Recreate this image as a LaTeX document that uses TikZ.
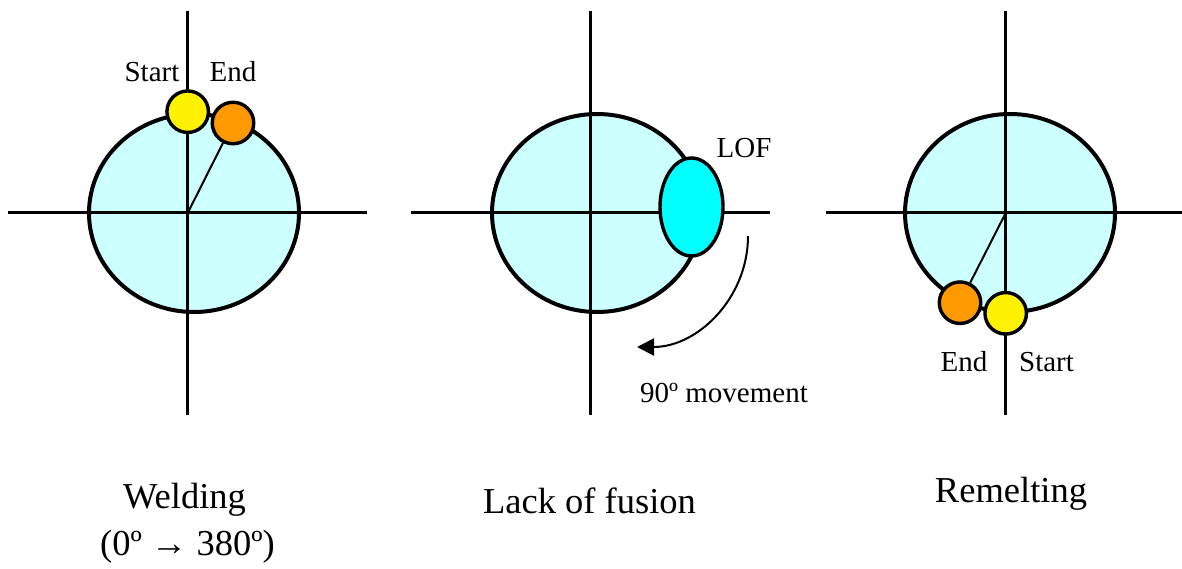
\documentclass[tikz,border=0pt]{standalone}
\usepackage{fontspec}
\setmainfont{Liberation Serif}
\usetikzlibrary{arrows.meta}
\definecolor{pipefill}{HTML}{CCFFFF}
\definecolor{lofcyan}{HTML}{00FFFF}
\definecolor{endorange}{HTML}{FF9900}

\begin{document}
\begin{tikzpicture}[x=1pt,y=-1pt,
  axis/.style={line width=3pt},
  pipe/.style={draw, line width=4pt, fill=pipefill},
  bead/.style={circle, draw, line width=3.4pt, inner sep=0pt, minimum size=41.5pt},
  lbl/.style={anchor=base, inner sep=0pt, font=\fontsize{29}{34}\selectfont},
  caption/.style={anchor=base, inner sep=0pt, font=\fontsize{36.5}{42}\selectfont}]
\useasboundingbox (0,0) rectangle (1182,569);

% welding
\coordinate (a) at (187.7,213);
\path[pipe] (194,213) ellipse[x radius=105, y radius=99];
\draw[axis] (a) ++(0,-202) -- ++(0,404);
\draw[axis] (a) ++(-180,0) -- ++(359,0);
\node[bead, fill=yellow] (s1) at (187.7,111.7) {};
\node[bead, fill=endorange] (e1) at (233,123) {};
\draw[line width=2pt] (a) -- (e1);
\node[lbl] (st1) at (152,82) {Start};
\node[lbl] (en1) at (233,82) {End};
\node[caption] (cap1) at (184.5,508) {Welding};
\node[caption] (cap1b) at (187.5,555) {(0º → 380º)};

% lack of fusion
\coordinate (b) at (590,213);
\path[pipe] (597,213) ellipse[x radius=105, y radius=99];
\draw[axis] (b) ++(0,-202) -- ++(0,404);
\draw[axis] (b) ++(-179,0) -- ++(359,0);
\path[draw, line width=3.4pt, fill=lofcyan] (691.5,207) ellipse[x radius=31.5, y radius=49];
\node[lbl] (lof) at (744,158) {LOF};
\coordinate (m0) at (748,236);
\draw[line width=2pt, -{Triangle[length=17pt,width=17pt]}] (m0) arc[start angle=0, end angle=90, radius=111];
\node[lbl] (mv) at (724,402) {90º movement};
\node[caption] (cap2) at (589.5,513) {Lack of fusion};

% remelting
\coordinate (c) at (1005.7,213);
\path[pipe] (1010,213) ellipse[x radius=105, y radius=99];
\draw[axis] (c) ++(0,-202) -- ++(0,404);
\draw[axis] (c) ++(-180,0) -- ++(180,0) -- ++(180,0);
\node[bead, fill=yellow] (s3) at (1005.7,313.3) {};
\node[bead, fill=endorange] (e3) at (960,302.7) {};
\draw[line width=2pt] (c) -- (e3);
\node[lbl] (en3) at (964,371) {End};
\node[lbl] (st3) at (1046.5,371) {Start};
\node[caption] (cap3) at (1011,502) {Remelting};
\end{tikzpicture}
\end{document}
